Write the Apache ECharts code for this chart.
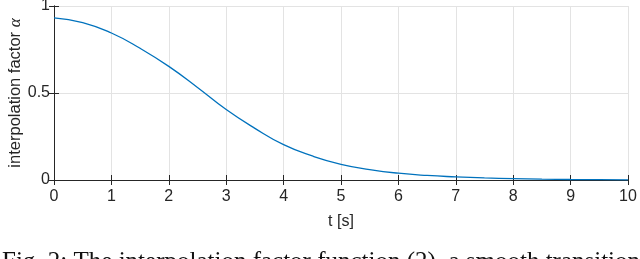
<!DOCTYPE html>
<html>
<head>
<meta charset="utf-8">
<script src="https://cdn.jsdelivr.net/npm/echarts@6/dist/echarts.min.js"></script>
<style>html,body{margin:0;padding:0;background:#fff}#c{width:640px;height:259px}</style>
</head>
<body>
<div id="c"></div>
<script>
var tValues = [0, 0.5, 1, 1.5, 2, 2.5, 3, 3.5, 4, 4.5, 5, 5.5, 6, 6.5, 7, 7.5, 8, 8.5, 9, 9.5, 10];
var alphaValues = [0.932, 0.905, 0.845, 0.757, 0.653, 0.532, 0.405, 0.297, 0.203, 0.138, 0.09, 0.06, 0.039, 0.026, 0.018, 0.012, 0.008, 0.005, 0.003, 0.002, 0.001];
var xTicks = [0, 1, 2, 3, 4, 5, 6, 7, 8, 9, 10];
var yTicks = [0, 0.5, 1];
var xLabel = 't [s]';
var yLabel = 'interpolation factor ';
var caption = 'Fig. 2: The interpolation factor function (2), a smooth transition';

var chart = echarts.init(document.getElementById('c'));
var axisCol = '#262626';
var font = 'Liberation Sans';
chart.setOption({
  animation: false,
  grid: {left: 54, right: 12, top: 6, bottom: 79, containLabel: false, outerBoundsMode: 'none'},
  xAxis: [{
    type: 'value', min: 0, max: 10, interval: 1,
    axisLine: {show: true, lineStyle: {color: axisCol, width: 1}},
    axisTick: {show: true, inside: true, length: 5, lineStyle: {color: axisCol}},
    axisLabel: {color: '#262626', fontFamily: font, fontSize: 16, margin: 9,
      formatter: function(v){ return xTicks.indexOf(v) >= 0 ? String(v) : ''; }},
    splitLine: {show: true, lineStyle: {color: '#e3e3e3', width: 1}},
    name: xLabel, nameLocation: 'middle', nameGap: 34, nameMoveOverlap: false,
    nameTextStyle: {color: '#262626', fontFamily: font, fontSize: 16}
  }, {
    type: 'value', min: 0, max: 10, interval: 1, position: 'top',
    axisLine: {show: true, lineStyle: {color: axisCol, width: 1}},
    axisTick: {show: true, inside: true, length: 5, lineStyle: {color: axisCol}},
    axisLabel: {show: false}, splitLine: {show: false}
  }],
  yAxis: [{
    type: 'value', min: 0, max: 1, interval: 0.5,
    axisLine: {show: true, lineStyle: {color: axisCol, width: 1}},
    axisTick: {show: true, inside: true, length: 5, lineStyle: {color: axisCol}},
    axisLabel: {color: '#262626', fontFamily: font, fontSize: 16, margin: 4,
      formatter: function(v){ return yTicks.indexOf(v) >= 0 ? String(v) : ''; }},
    splitLine: {show: true, lineStyle: {color: '#e3e3e3', width: 1}},
    name: yLabel + '{a|α}', nameLocation: 'middle', nameGap: 30, nameRotate: 90, nameMoveOverlap: false,
    nameTextStyle: {color: '#262626', fontFamily: font, fontSize: 16.5,
      rich: {a: {fontFamily: 'Liberation Serif', fontStyle: 'italic', fontSize: 17, color: '#262626'}}}
  }, {
    type: 'value', min: 0, max: 1, interval: 0.5, position: 'right',
    axisLine: {show: true, lineStyle: {color: axisCol, width: 1}},
    axisTick: {show: true, inside: true, length: 5, lineStyle: {color: axisCol}},
    axisLabel: {show: false}, splitLine: {show: false}
  }],
  series: [{
    type: 'line', xAxisIndex: 0, yAxisIndex: 0,
    data: tValues.map(function(t, i){ return [t, alphaValues[i]]; }),
    smooth: true, showSymbol: false,
    lineStyle: {color: '#0072BD', width: 1.3}
  }],
  graphic: [{
    type: 'text', left: 2, top: 250,
    style: {text: caption, font: '25px "Liberation Serif"', fill: '#111'}
  }]
});
</script>
</body>
</html>
